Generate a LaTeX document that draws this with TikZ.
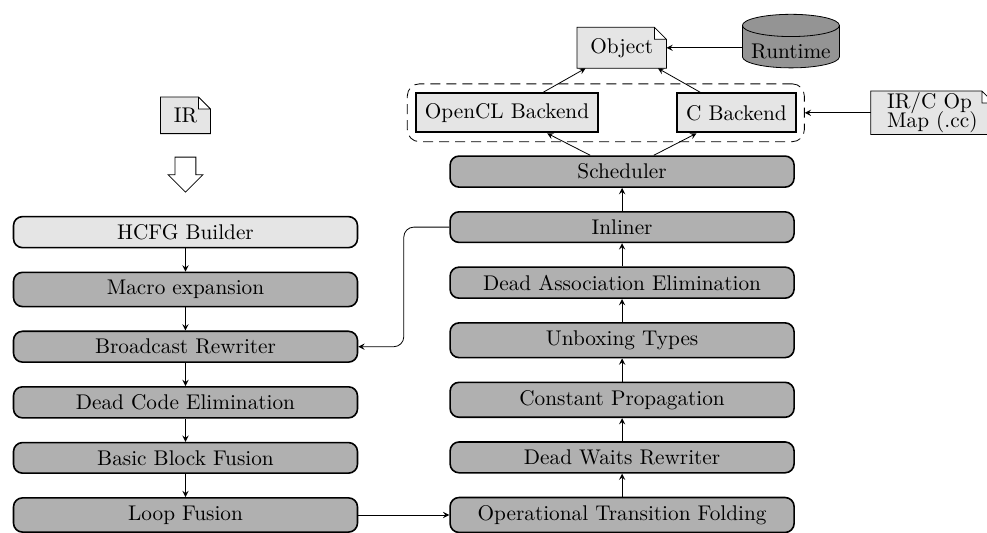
\documentclass[tikz,border=0pt]{standalone}
\usepackage{tikz}
\usetikzlibrary{positioning, calc, arrows, fit, shapes.geometric, shapes.arrows}
\tikzset{>=stealth}
\definecolor{passgray}{gray}{0.69}
\definecolor{lightgray}{gray}{0.9}
\definecolor{cylgray}{gray}{0.58}
\newcommand{\labelfont}{\fontsize{10.63pt}{12pt}\selectfont}

\makeatletter
\pgfdeclareshape{docfile}{
  \inheritsavedanchors[from=rectangle]
  \inheritanchorborder[from=rectangle]
  \inheritanchor[from=rectangle]{center}
  \inheritanchor[from=rectangle]{north}
  \inheritanchor[from=rectangle]{south}
  \inheritanchor[from=rectangle]{east}
  \inheritanchor[from=rectangle]{west}
  \inheritanchor[from=rectangle]{north east}
  \inheritanchor[from=rectangle]{north west}
  \inheritanchor[from=rectangle]{south east}
  \inheritanchor[from=rectangle]{south west}
  \backgroundpath{
    \southwest \pgf@xa=\pgf@x \pgf@ya=\pgf@y
    \northeast \pgf@xb=\pgf@x \pgf@yb=\pgf@y
    \pgfpathmoveto{\pgfpoint{\pgf@xa}{\pgf@ya}}
    \pgfpathlineto{\pgfpoint{\pgf@xa}{\pgf@yb}}
    \pgfpathlineto{\pgfpoint{\pgf@xb-6pt}{\pgf@yb}}
    \pgfpathlineto{\pgfpoint{\pgf@xb}{\pgf@yb-6pt}}
    \pgfpathlineto{\pgfpoint{\pgf@xb}{\pgf@ya}}
    \pgfpathclose
    \pgfpathmoveto{\pgfpoint{\pgf@xb-6pt}{\pgf@yb}}
    \pgfpathlineto{\pgfpoint{\pgf@xb-6pt}{\pgf@yb-6pt}}
    \pgfpathlineto{\pgfpoint{\pgf@xb}{\pgf@yb-6pt}}
  }
}
\makeatother

\begin{document}
\begin{tikzpicture}
    [node distance=11.55pt, every node/.style={font=\labelfont},
      pass/.style={draw, line width=0.8pt, rounded corners=4.5pt, fill=passgray,
        minimum width=172pt, inner ysep=3.9pt, align=center},
      startpass/.style={pass, fill=lightgray},
      backend/.style={draw, line width=1pt, fill=lightgray, minimum height=19.5pt, inner xsep=4.5pt},
      doc/.style={draw, docfile, line width=0.4pt, fill=lightgray, inner xsep=6.5pt, inner ysep=5.2pt},
      flow/.style={->, line width=0.4pt}]

    \useasboundingbox (-92.75pt,-9pt) rectangle (400.75pt,257.5pt);

    % left column
    \node[pass] (loop) at (0,0) {Loop Fusion};
    \node[above=of loop, pass] (basic) {Basic Block Fusion};
    \node[above=of basic, pass] (dead) {Dead Code Elimination};
    \node[above=of dead, pass] (broadcast) {Broadcast Rewriter};
    \node[above=of broadcast, pass] (macro) {Macro expansion};
    \node[above=of macro, startpass] (hcfg) {HCFG Builder};
    \node[above=of hcfg, draw, single arrow, shape border rotate=270, inner sep=5pt,
      minimum width=17pt, minimum height=17.5pt, single arrow head extend=3.5pt] (down) {};
    \node[above=of down, doc] (ir) {IR};

    % right column
    \node[right=45.5pt of loop, pass] (folding) {Operational Transition Folding};
    \node[above=of folding, pass] (waits) {Dead Waits Rewriter};
    \node[above=of waits, pass] (const) {Constant Propagation};
    \node[above=of const, pass] (unbox) {Unboxing Types};
    \node[above=of unbox, pass] (assoc) {Dead Association Elimination};
    \node[above=of assoc, pass] (inliner) {Inliner};
    \node[above=of inliner, pass] (sched) {Scheduler};

    \node[above left=11pt and 11.5pt of sched.north, backend] (opencl) {OpenCL Backend};
    \node[above right=11pt and 27pt of sched.north, backend] (cback) {C Backend};
    \node[draw, dashed, dash pattern=on 5pt off 3pt, rounded corners=6pt, inner xsep=3.8pt, inner ysep=4.2pt,
      fit=(opencl) (cback)] (backends) {};
    \node[above=12pt of $(opencl.north)!.5!(cback.north)$, doc] (object) {Object};
    \node[right=62.25pt of object.south east, anchor=south, draw, cylinder, shape border rotate=90,
      aspect=0.28, fill=cylgray, line width=0.4pt, minimum width=48.5pt, minimum height=0pt, inner sep=0pt] (runtime) {\raisebox{-1.08pt}[9.9pt][0pt]{Runtime}};
    \node[right=33pt of backends, doc, align=left, inner xsep=8pt, inner ysep=0.5pt] (opmap) {IR/C Op \\[-2.3pt] Map (.cc)};

    \draw[flow] (hcfg) -- (macro);
    \draw[flow] (macro) -- (broadcast);
    \draw[flow] (broadcast) -- (dead);
    \draw[flow] (dead) -- (basic);
    \draw[flow] (basic) -- (loop);
    \draw[flow] (loop) -- (folding);
    \draw[flow] (folding) -- (waits);
    \draw[flow] (waits) -- (const);
    \draw[flow] (const) -- (unbox);
    \draw[flow] (unbox) -- (assoc);
    \draw[flow] (assoc) -- (inliner);
    \draw[flow] (inliner) -- (sched);
    \draw[flow] (sched) -- (opencl);
    \draw[flow] (sched) -- (cback);
    \draw[flow] (opencl) -- (object);
    \draw[flow] (cback) -- (object);
    \draw[flow] (runtime.west |- object) -- (object);
    \draw[flow] (opmap) -- (backends);
    \coordinate (bend) at ($(loop.east)!.5!(folding.west)$);
    \draw[flow, rounded corners=5pt] (inliner.west) -- (bend |- inliner.west) -- (bend |- broadcast.east) -- (broadcast.east);
  \end{tikzpicture}
\end{document}
